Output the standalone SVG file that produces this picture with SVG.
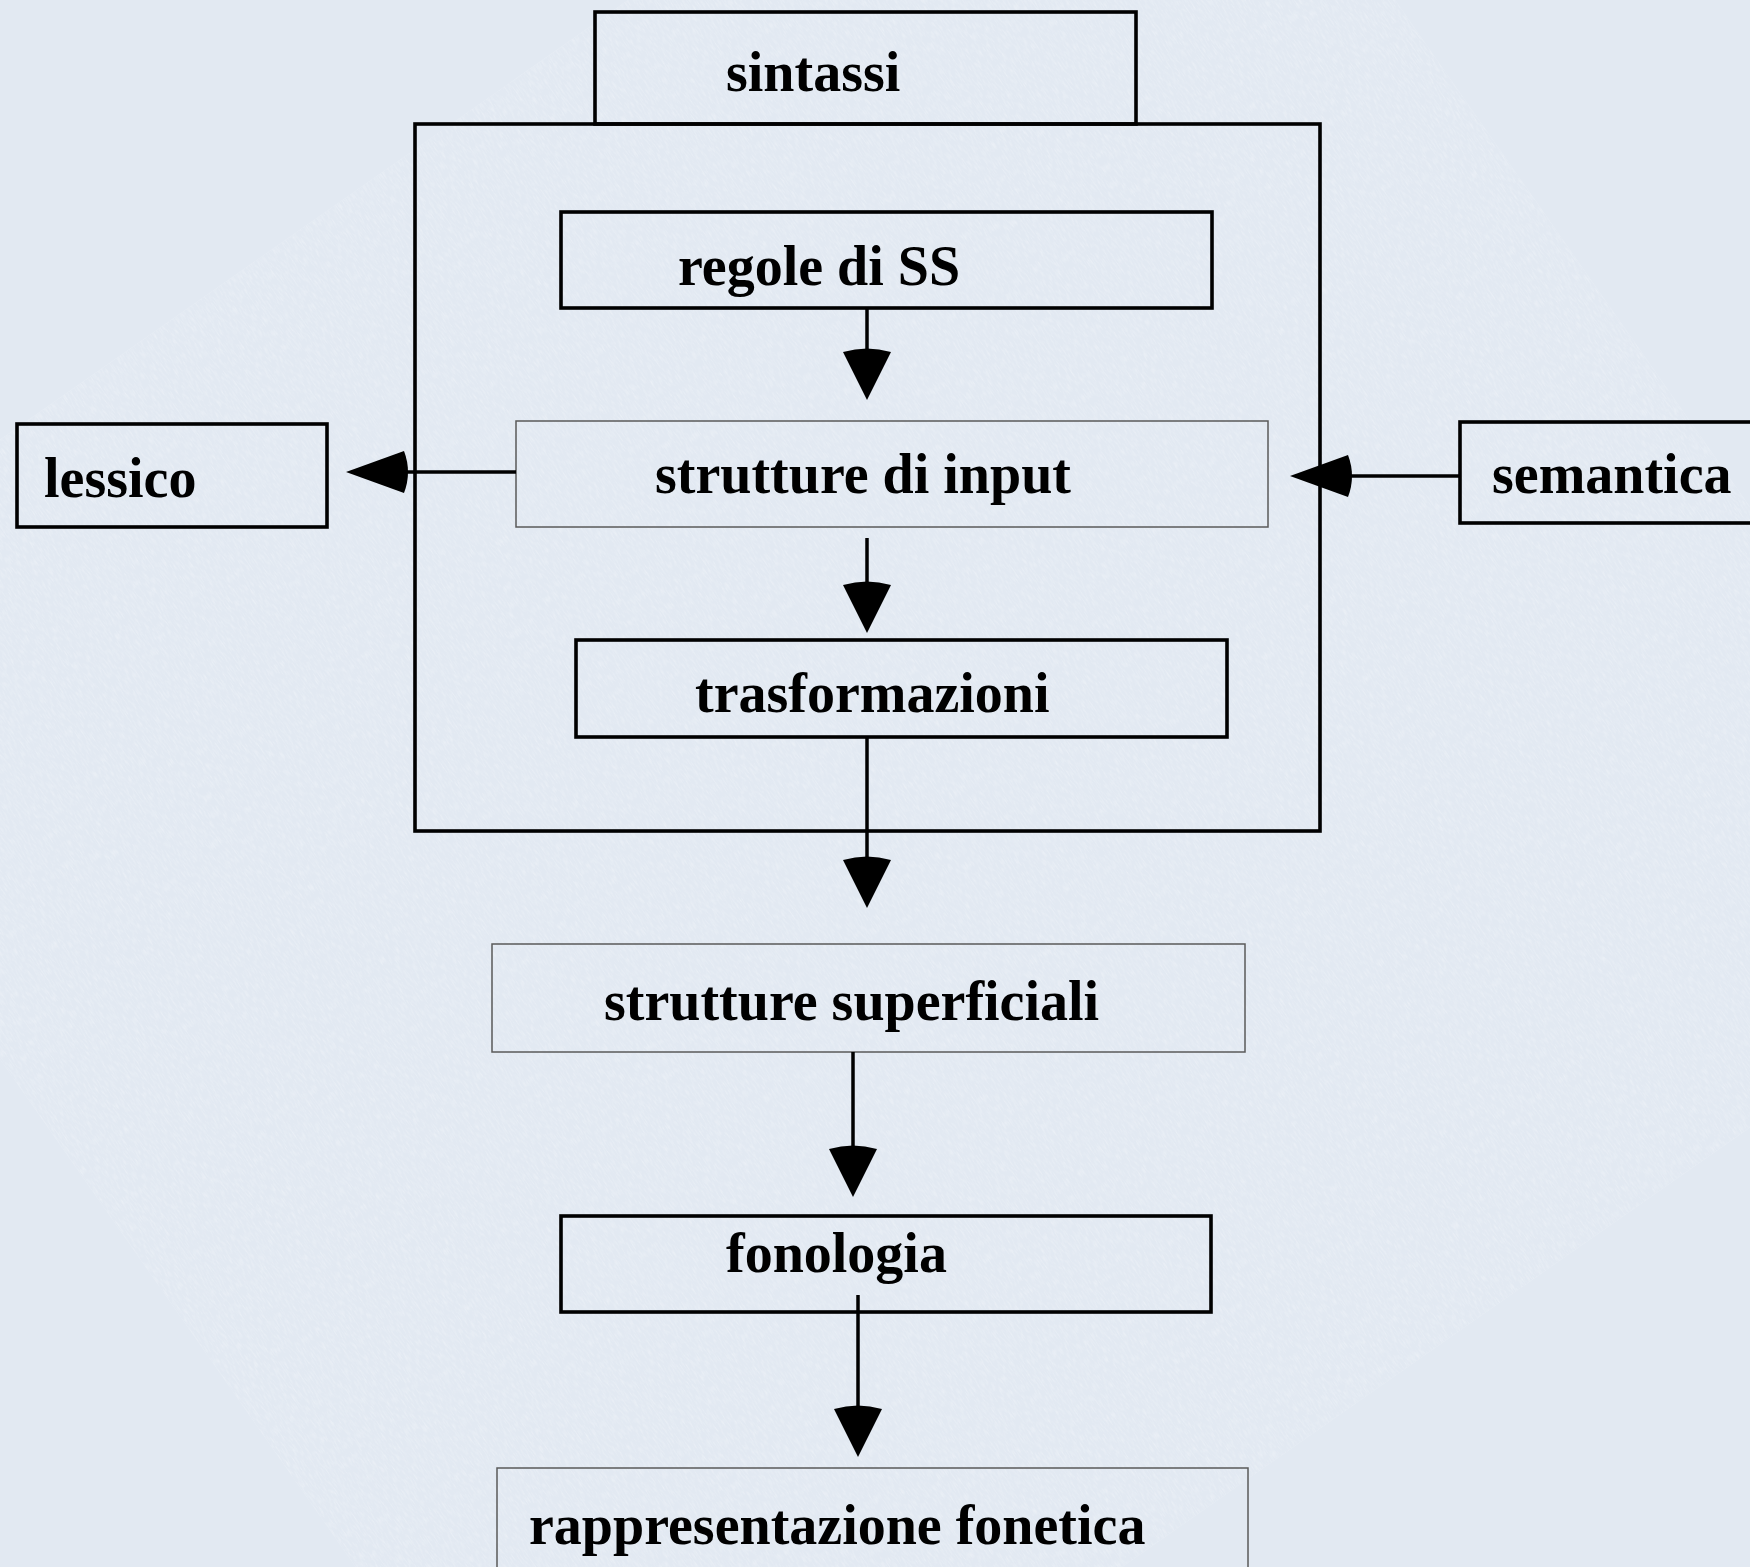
<svg xmlns="http://www.w3.org/2000/svg" width="1750" height="1567" viewBox="0 0 1750 1567">
  <style>
    .box { fill: none; stroke: #000; stroke-width: 3.6; }
    .thin { fill: none; stroke: #5a5a5a; stroke-width: 1.5; }
    .lbl { font-family: "Liberation Serif", "Times New Roman", serif; font-weight: bold; font-size: 56px; fill: #000; }
    .wire { fill: none; stroke: #000; stroke-width: 3.5; }
    .wireV { marker-end: url(#headV); }
    .wireH { marker-end: url(#headH); }
  </style>
  <defs>
    <!-- arrowheads with a slightly rounded back -->
    <marker id="headV" markerUnits="userSpaceOnUse" viewBox="-8 -26 58 52" refX="0" refY="0" markerWidth="58" markerHeight="52" orient="auto">
      <path d="M48,0 L0,-24 Q-7,0 0,24 Z" fill="#000"/>
    </marker>
    <marker id="headH" markerUnits="userSpaceOnUse" viewBox="-8 -23 68 46" refX="0" refY="0" markerWidth="68" markerHeight="46" orient="auto">
      <path d="M58,0 L0,-21 Q-8,0 0,21 Z" fill="#000"/>
    </marker>
    <!-- faint paper grain -->
    <filter id="grain" x="0" y="0" width="100%" height="100%" filterUnits="userSpaceOnUse">
      <feTurbulence type="fractalNoise" baseFrequency="0.7 0.12" numOctaves="3" seed="7"/>
      <feColorMatrix type="matrix" values="0 0 0 0 1  0 0 0 0 1  0 0 0 0 1  0 0 0 -1.4 0.8"/>
    </filter>
  </defs>

  <!-- paper background -->
  <rect x="0" y="0" width="1750" height="1567" fill="#e2e9f2"/>
  <g transform="rotate(-35 875 783)" opacity="0.45">
    <rect x="-600" y="-600" width="2950" height="2770" fill="#fff" filter="url(#grain)"/>
  </g>

  <g id="sintassi">
    <rect class="box" x="595" y="12" width="541" height="112"/>
    <text class="lbl" x="726" y="91">sintassi</text>
  </g>

  <g id="componente-sintattico">
    <rect class="box" x="415" y="124" width="905" height="707"/>
  </g>

  <g id="regole-ss">
    <rect class="box" x="561" y="212" width="651" height="96"/>
    <text class="lbl" x="678" y="285">regole di SS</text>
  </g>

  <g id="strutture-input">
    <rect class="thin" x="516" y="421" width="752" height="106"/>
    <text class="lbl" x="655" y="493">strutture di input</text>
  </g>

  <g id="lessico">
    <rect class="box" x="17" y="424" width="310" height="103"/>
    <text class="lbl" x="44" y="497">lessico</text>
  </g>

  <g id="semantica">
    <rect class="box" x="1460" y="422" width="310" height="101"/>
    <text class="lbl" x="1492" y="493">semantica</text>
  </g>

  <g id="trasformazioni">
    <rect class="box" x="576" y="640" width="651" height="97"/>
    <text class="lbl" x="695" y="712">trasformazioni</text>
  </g>

  <g id="strutture-superficiali">
    <rect class="thin" x="492" y="944" width="753" height="108"/>
    <text class="lbl" x="604" y="1020">strutture superficiali</text>
  </g>

  <g id="fonologia">
    <rect class="box" x="561" y="1216" width="650" height="96"/>
    <text class="lbl" x="726" y="1272">fonologia</text>
  </g>

  <g id="rappresentazione-fonetica">
    <rect class="thin" x="497" y="1468" width="751" height="120"/>
    <text class="lbl" x="529" y="1544">rappresentazione fonetica</text>
  </g>

  <g id="connectors">
    <line class="wire wireV" x1="867" y1="308" x2="867" y2="352"/>
    <line class="wire wireV" x1="867" y1="538" x2="867" y2="585"/>
    <line class="wire wireV" x1="867" y1="737" x2="867" y2="860"/>
    <line class="wire wireV" x1="853" y1="1052" x2="853" y2="1149"/>
    <line class="wire wireV" x1="858" y1="1295" x2="858" y2="1409"/>
    <line class="wire wireH" x1="516" y1="472" x2="404" y2="472"/>
    <line class="wire wireH" x1="1460" y1="476" x2="1348" y2="476"/>
  </g>
</svg>
